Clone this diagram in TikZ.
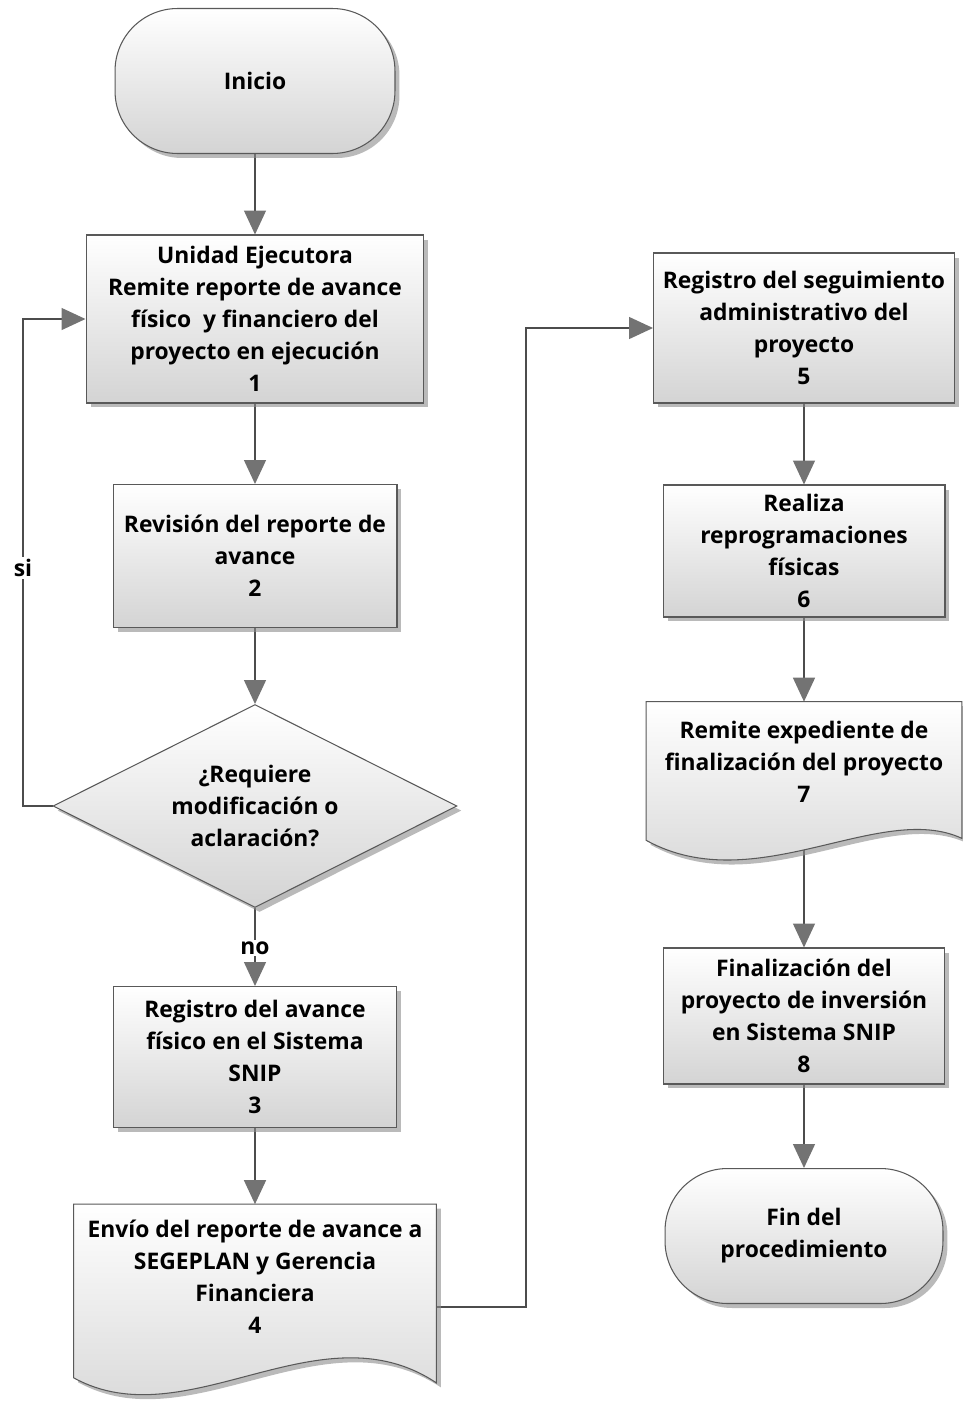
\documentclass[tikz,border=0pt]{standalone}
\usepackage{fontspec}
\setmainfont{Open Sans}
\usepackage{tikz}
\usetikzlibrary{positioning,arrows.meta,shapes.geometric,shadows,backgrounds,calc}
\pgfdeclarelayer{lines}
\pgfsetlayers{lines,background,main}

\begin{document}
\begin{tikzpicture}[x=0.02cm, y=-0.02cm, font=\bfseries\fontsize{13}{18.2}\selectfont]
\tikzset{
  glossy/.style={top color=white, bottom color=black!17, drop shadow={shadow xshift=0.09cm, shadow yshift=-0.09cm, fill=black!45, opacity=0.6}},
  proc/.style={glossy, draw=black!65, line width=0.6pt, align=center, inner sep=1pt},
  term/.style={proc, rounded corners=1.25cm},
  dec/.style={proc, diamond, aspect=2, inner sep=0pt},
  doc/.style={align=center, inner sep=1pt},
  docline/.style={glossy, draw=black!65, line width=0.6pt},
  flow/.style={draw=black!70, line width=0.8pt, -{Triangle[length=0.48cm, width=0.44cm, color=black!55]}},
  lbl/.style={fill=white, inner sep=1pt}
}
\useasboundingbox (0,0) rectangle (963,1404);

% left column
\node[term, minimum width=5.6cm, minimum height=2.9cm] (ini) at (255,81) {Inicio};
\node[proc, minimum width=6.76cm, minimum height=3.36cm] (b1) at (255,319) {Unidad Ejecutora\\Remite reporte de avance\\físico~ y financiero del\\proyecto en ejecución\\1};
\node[proc, minimum width=5.68cm, minimum height=2.86cm] (b2) at (255,556) {Revisión del reporte de\\avance\\2};
\node[dec, minimum width=8.08cm, minimum height=4.06cm] (q) at (255,806) {¿Requiere\\modificación o\\aclaración?};
\node[proc, minimum width=5.66cm, minimum height=2.82cm] (b3) at (255,1057) {Registro del avance\\físico en el Sistema\\SNIP\\3};
\node[doc, minimum width=7.24cm, minimum height=2.9cm] (b4) at (255,1277) {Envío del reporte de avance a\\SEGEPLAN y Gerencia\\Financiera\\4};

% right column
\node[proc, minimum width=6.02cm, minimum height=3.0cm] (b5) at (804,328) {Registro del seguimiento\\administrativo del\\proyecto\\5};
\node[proc, minimum width=5.64cm, minimum height=2.64cm] (b6) at (804,551) {Realiza\\reprogramaciones\\físicas\\6};
\node[doc, minimum width=6.3cm, minimum height=2.4cm] (b7) at (804,762) {Remite expediente de\\finalización del proyecto\\7};
\node[proc, minimum width=5.62cm, minimum height=2.72cm] (b8) at (804,1016) {Finalización del\\proyecto de inversión\\en Sistema SNIP\\8};
\node[term, minimum width=5.56cm, minimum height=2.7cm] (fin) at (804,1236) {Fin del\\procedimiento};

\begin{scope}[on background layer]
\path[docline] (b4.north west) -- (b4.north east) -- ([yshift=-0.66cm]b4.south east)
  .. controls +(-117,-78) and +(113,62) .. ([yshift=-0.56cm]b4.south west) -- cycle;
\path[docline] (b7.north west) -- (b7.north east) -- ([yshift=-0.32cm]b7.south east)
  .. controls +(-82,-38) and +(109,60) .. ([yshift=-0.36cm]b7.south west) -- cycle;
\end{scope}

\coordinate (sibend) at (23,568);
\coordinate (jog) at (526,800);

\begin{pgfonlayer}{lines}
\draw[flow] (ini) -- (b1);
\draw[flow] (b1) -- (b2);
\draw[flow] (b2) -- (q);
\draw[flow] (q) -- (b3);
\draw[flow] (b3) -- (b4);
\draw[flow] (q.west) -| (sibend) |- (b1.west);
\draw[flow] ([yshift=-0.6cm]b4.east) -| (jog) |- (b5.west);
\draw[flow] (b5) -- (b6);
\draw[flow] (b6) -- (b7);
\draw[flow] (b7) -- (b8);
\draw[flow] (b8) -- (fin);
\end{pgfonlayer}

\node[lbl] (si) at (sibend) {si};
\node[lbl] (no) at (255,948) {no};
\end{tikzpicture}
\end{document}
